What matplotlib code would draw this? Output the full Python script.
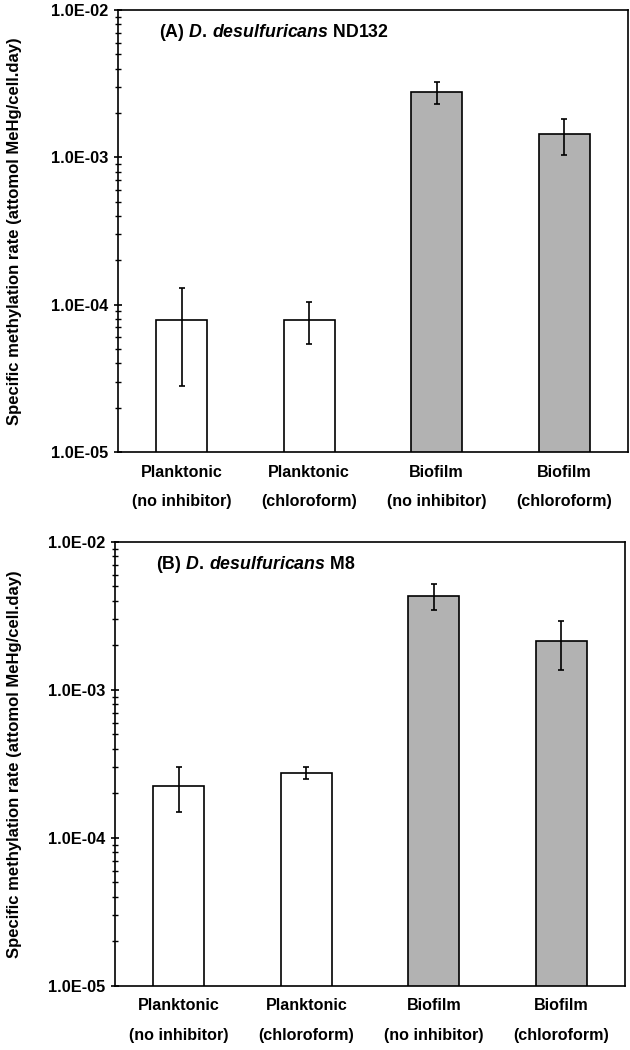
import matplotlib
matplotlib.use("Agg")
import matplotlib.pyplot as plt
import numpy as np
from matplotlib.ticker import LogLocator, FuncFormatter, NullFormatter

plt.rcParams['font.family'] = ['Liberation Sans', 'DejaVu Sans']
plt.rcParams['mathtext.fontset'] = 'custom'
plt.rcParams['mathtext.it'] = 'Liberation Sans:italic:bold'
plt.rcParams['mathtext.rm'] = 'Liberation Sans:bold'

categories = ["Planktonic\n(no inhibitor)", "Planktonic\n(chloroform)",
              "Biofilm\n(no inhibitor)", "Biofilm\n(chloroform)"]
bar_colors = ["white", "white", "#b2b2b2", "#b2b2b2"]

# (A) D. desulfuricans ND132
rate_a = [7.9e-5, 7.9e-5, 2.78e-3, 1.43e-3]
err_a = [5.1e-5, 2.5e-5, 0.47e-3, 0.40e-3]

# (B) D. desulfuricans M8
rate_b = [2.25e-4, 2.75e-4, 4.33e-3, 2.14e-3]
err_b = [7.5e-5, 2.4e-5, 0.86e-3, 0.78e-3]

titles = [r"(A) $\mathit{D.\,desulfuricans}$ ND132",
          r"(B) $\mathit{D.\,desulfuricans}$ M8"]
ylabel = "Specific methylation rate (attomol MeHg/cell.day)"


def draw_panel(ax, values, errors, title, label_x):
    x = np.arange(len(categories))
    ax.bar(x, values, width=0.4, color=bar_colors, edgecolor="black",
           linewidth=1.2, zorder=2)
    ax.errorbar(x, values, yerr=errors, fmt="none", ecolor="black",
                elinewidth=1.2, capsize=2.5, capthick=1.2, zorder=3)
    ax.set_yscale("log")
    ax.set_ylim(1e-5, 1e-2)
    ax.set_xlim(-0.5, 3.5)
    ax.yaxis.set_major_locator(LogLocator(base=10, numticks=10))
    ax.yaxis.set_minor_locator(LogLocator(base=10, subs=np.arange(2, 10), numticks=10))
    ax.yaxis.set_major_formatter(FuncFormatter(lambda v, p: f"{v:.1E}"))
    ax.yaxis.set_minor_formatter(NullFormatter())
    ax.tick_params(axis="y", which="major", direction="inout", length=6,
                   width=1.2, labelsize=11.8, pad=4)
    ax.tick_params(axis="y", which="minor", direction="inout", length=4,
                   width=1.0)
    ax.set_xticks(x)
    ax.set_xticklabels(categories, fontsize=11.6, fontweight="bold",
                       linespacing=2.2)
    ax.tick_params(axis="x", length=0, pad=9)
    for lab in ax.get_yticklabels():
        lab.set_fontweight("bold")
    for s in ax.spines.values():
        s.set_linewidth(1.2)
    ax.set_ylabel(ylabel, fontsize=12, fontweight="bold")
    ax.yaxis.set_label_coords(label_x, 0.5)
    ax.text(0.08, 0.948, title, transform=ax.transAxes, fontsize=12.8,
            fontweight="bold", va="center", ha="left")


fig = plt.figure(figsize=(6.3, 10.5), dpi=100)
ax_a = fig.add_axes([0.187, 0.5695, 0.81, 0.421])
ax_b = fig.add_axes([0.1825, 0.061, 0.81, 0.423])

draw_panel(ax_a, rate_a, err_a, titles[0], -0.188)
draw_panel(ax_b, rate_b, err_b, titles[1], -0.182)

fig.savefig("out.png", dpi=100)
